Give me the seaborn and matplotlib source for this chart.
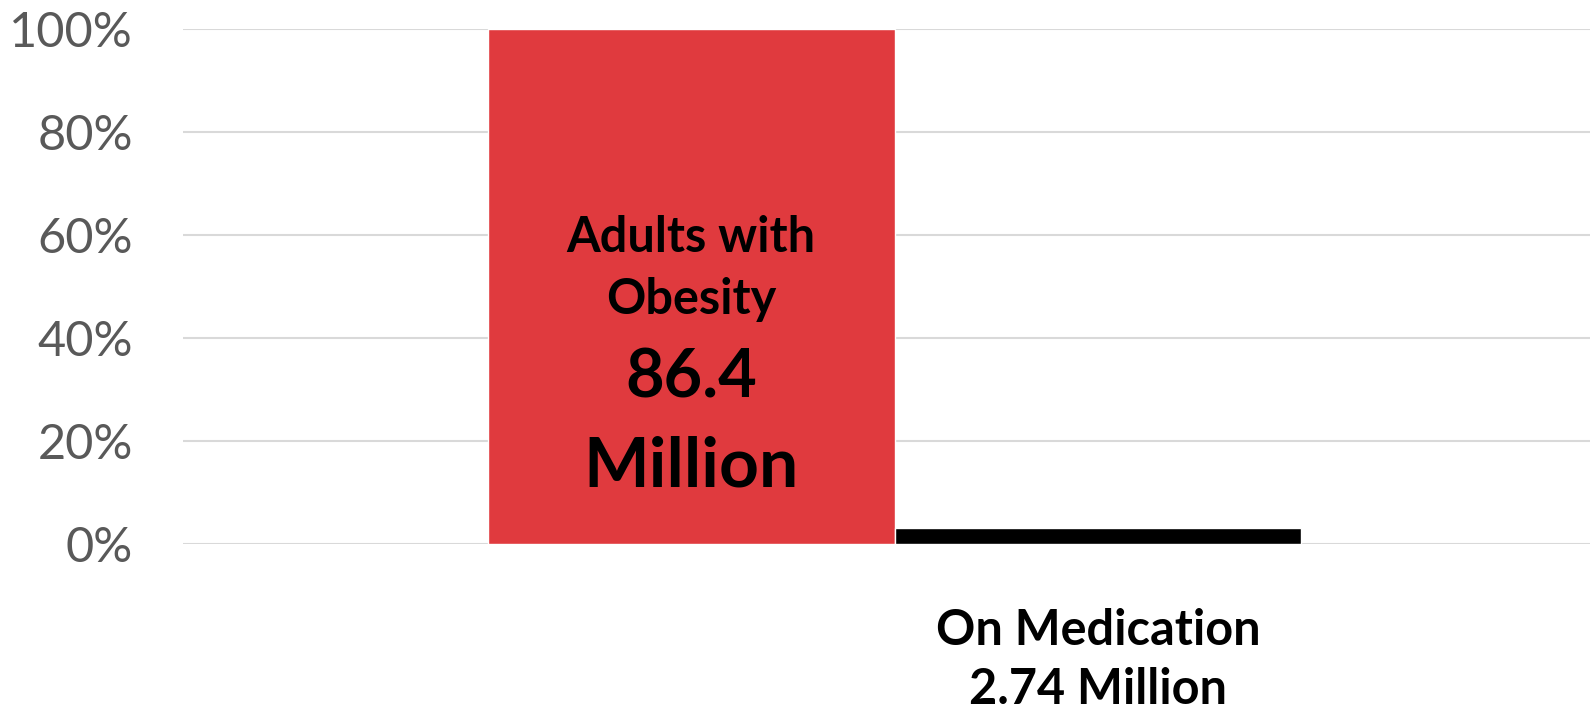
import pandas as pd
import seaborn as sns
import matplotlib.pyplot as plt
from matplotlib.ticker import PercentFormatter

# data
groups = ['Adults with Obesity', 'On Medication']
millions = [86.4, 2.74]
bar_colors = ['#E03A3E', '#000000']

df = pd.DataFrame({'group': groups, 'millions': millions})
df['share'] = df['millions'] / df['millions'].max() * 100

sns.set_style('white')
plt.rcParams['font.family'] = ['Lato', 'DejaVu Sans']

fig = plt.figure(figsize=(15.9, 7.14), dpi=100)
ax = fig.add_axes([183/1590, 1 - 544/714, 1 - 183/1590, (544 - 29)/714])

sns.barplot(data=df, x='group', y='share', hue='group',
            palette=bar_colors, width=1.0, saturation=1,
            legend=False, ax=ax)

ax.set_ylim(0, 100)
ax.set_xlim(-1.25, 2.21)
ax.set_yticks(range(0, 101, 20))
ax.yaxis.set_major_formatter(PercentFormatter(decimals=0))
ax.grid(axis='y', color='#D9D9D9', linewidth=1.5)
ax.set_axisbelow(True)
ax.set_xticks([])
ax.set_xlabel('')
ax.set_ylabel('')
ax.tick_params(axis='y', length=0, pad=36, labelsize=35, labelcolor='#595959')
sns.despine(ax=ax, left=True, bottom=True)

# labels inside the big bar
ax.text(0, 59.6, 'Adults with', ha='center', va='center',
        fontsize=35, fontweight='bold', color='black')
ax.text(0, 47.4, 'Obesity', ha='center', va='center',
        fontsize=35, fontweight='bold', color='black')
ax.text(0, 32.2, f'{millions[0]}', ha='center', va='center',
        fontsize=48, fontweight='bold', color='black')
ax.text(0, 15.0, 'Million', ha='center', va='center',
        fontsize=50, fontweight='bold', color='black')

# label under the small bar
ax.text(1, -16.7, 'On Medication', ha='center', va='center',
        fontsize=35, fontweight='bold', color='black', clip_on=False)
ax.text(1, -28.3, f'{millions[1]} Million', ha='center', va='center',
        fontsize=35, fontweight='bold', color='black', clip_on=False)

fig.savefig('out.png', dpi=100)
